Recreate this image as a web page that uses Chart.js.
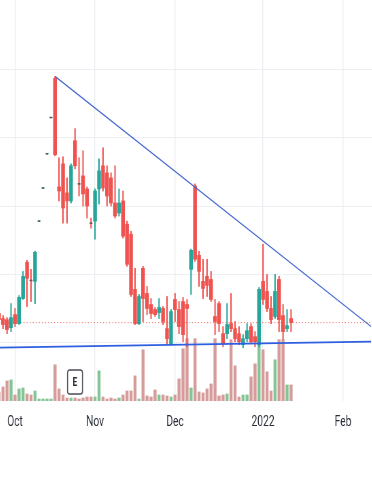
<!DOCTYPE html>
<html lang="en">
<head>
<meta charset="UTF-8">
<title>Daily candles</title>
<script src="https://cdn.jsdelivr.net/npm/chart.js"></script>
<style>
  html, body { margin: 0; padding: 0; background: #fff; overflow: hidden; }
  body { width: 372px; height: 484px; position: relative; }
  /* chart is drawn wide and squeezed, like the screenshot */
  #wrap { position: absolute; left: -3px; top: 0; width: 553px; height: 484px; transform: scaleX(0.68); transform-origin: 0 0; }
</style>
</head>
<body>
<div id="wrap"><canvas id="grafico"></canvas></div>

<script>
// daily OHLC, first visible bar to last traded bar
const opens = [7.12, 6.75, 6.67, 6.08, 7.04, 6.38, 8.22, 10.88, 9.55, 9.48,
  13.90, 16.33, 18.84, 21.50, 24.37, 16.41, 18.10, 15.97, 15.38, 19.80,
  16.63, 17.22, 16.26, 13.75, 13.90, 16.26, 17.96, 17.44, 17.07, 15.23,
  14.49, 15.38, 13.68, 12.94, 8.89, 6.38, 10.44, 8.59, 7.78, 7.41,
  7.19, 7.49, 6.01, 4.90, 8.15, 7.41, 8.00, 7.78, 10.36, 16.48,
  11.39, 9.48, 9.85, 9.62, 6.90, 7.85, 5.64, 5.64, 6.38, 6.01,
  5.64, 4.83, 5.27, 6.16, 5.42, 4.83, 9.48, 8.74, 7.49, 6.90,
  9.62, 6.97, 6.01, 6.75];
const highs = [7.41, 6.97, 6.82, 7.85, 7.49, 8.44, 10.21, 11.03, 10.36, 11.69,
  13.90, 16.33, 18.84, 21.50, 24.52, 18.55, 18.62, 17.07, 18.10, 20.69,
  18.55, 19.06, 16.41, 14.12, 16.26, 18.47, 19.28, 17.96, 17.44, 17.96,
  16.26, 16.11, 13.90, 13.16, 10.44, 8.52, 10.58, 9.11, 8.22, 7.56,
  8.22, 7.63, 8.37, 7.41, 8.59, 8.00, 8.30, 8.15, 11.84, 16.63,
  11.69, 11.10, 11.10, 10.21, 8.15, 8.00, 6.16, 7.85, 8.59, 6.53,
  6.16, 5.57, 6.38, 6.38, 5.79, 9.03, 12.20, 9.99, 8.37, 9.99,
  9.85, 7.78, 7.41, 7.41];
const lows = [6.45, 6.01, 5.64, 5.79, 6.16, 6.31, 8.15, 7.63, 8.00, 7.85,
  13.90, 16.33, 18.84, 21.50, 18.69, 15.38, 13.75, 13.75, 15.23, 17.74,
  15.74, 15.01, 14.12, 13.38, 12.57, 15.15, 16.11, 15.01, 15.01, 14.12,
  14.27, 12.65, 10.58, 8.37, 6.31, 6.31, 6.53, 7.04, 6.75, 6.90,
  6.75, 6.31, 4.90, 4.83, 6.53, 5.64, 5.05, 4.68, 8.52, 10.95,
  9.11, 8.22, 8.37, 8.00, 5.57, 5.79, 4.68, 5.27, 5.79, 5.05,
  4.83, 4.61, 5.05, 4.90, 4.68, 4.68, 7.78, 7.26, 6.38, 6.75,
  5.79, 5.20, 5.79, 5.79];
const closes = [6.67, 6.31, 5.94, 6.82, 6.38, 8.30, 9.85, 9.70, 9.55, 11.61,
  13.90, 16.33, 18.84, 21.50, 18.77, 16.11, 14.86, 15.38, 17.96, 17.96,
  16.63, 15.89, 15.01, 13.75, 16.11, 17.59, 16.33, 15.74, 15.23, 14.27,
  15.23, 12.79, 10.73, 8.52, 6.38, 8.37, 8.22, 7.49, 7.12, 7.04,
  7.56, 6.53, 5.27, 7.26, 7.41, 6.16, 5.57, 7.49, 11.76, 11.10,
  10.21, 8.96, 9.18, 8.15, 6.53, 6.38, 4.90, 6.31, 6.01, 5.27,
  5.05, 5.27, 5.86, 5.05, 5.05, 8.89, 8.15, 7.49, 6.67, 8.74,
  6.67, 5.79, 6.23, 6.45];
// volume, millions
const volumes = [4.5, 7, 10, 10.5, 3, 6, 6.5, 3.5, 3, 5,
  1, 1, 1, 1, 18, 6, 3, 1.5, 1.5, 1.5,
  1, 1.5, 2, 2, 2, 15, 2, 1, 1.5, 1,
  1.5, 3, 5, 5, 12.5, 1, 25.5, 2.5, 2, 5.5,
  3, 3, 2.5, 2, 3, 11, 26, 31, 6.5, 31,
  4.5, 4, 6, 8.5, 31, 2.5, 3, 3.5, 30.5, 17.5,
  2, 3, 3, 12, 18.5, 28.5, 25.5, 14.5, 5, 20.5,
  30.5, 30.5, 8, 8];

const totalDays = 94; // visible bars incl. empty future ones
const monthTicks = { 4: 'Oct', 24: 'Nov', 44: 'Dec', 66: '2022', 86: 'Feb' };
const gridPrices = [5, 10, 15, 20, 25];
const earningsDay = 19;

// drawn trend lines: [bar index, price]
const upperTrend = [[14, 24.52], [93, 6.17]];
const lowerTrend = [[0, 4.61], [93, 5.05]];

const upColor = '#26a69a';
const downColor = '#ef5350';
const upVol = '#84c595';
const downVol = '#d69c9b';

const labels = [];
for (let i = 0; i < totalDays; i++) labels.push('d' + i);

const isUp = closes.map((c, i) => c > opens[i] || (c === opens[i] && i > 0 && c > closes[i - 1]));
const candleColors = isUp.map(u => u ? upColor : downColor);
const volColors = isUp.map(u => u ? upVol : downVol);

function lineFrom(points) {
  const arr = new Array(totalDays).fill(null);
  points.forEach(p => { arr[p[0]] = p[1]; });
  return arr;
}

const lastClose = closes[closes.length - 1];

const data = {
  labels: labels,
  datasets: [
    {
      type: 'line',
      data: lineFrom(upperTrend),
      spanGaps: true,
      borderColor: '#3f63cf',
      borderWidth: 1.3,
      pointRadius: 0,
      order: 0
    },
    {
      type: 'line',
      data: lineFrom(lowerTrend),
      spanGaps: true,
      borderColor: '#2f5fe0',
      borderWidth: 1.8,
      pointRadius: 0,
      order: 0
    },
    {
      type: 'line',
      data: opens.map((o, i) => o === closes[i] ? o : null),
      showLine: false,
      pointStyle: 'line',
      pointRadius: 1.7,
      pointBorderWidth: 1.6,
      pointBorderColor: '#55585f',
      order: 1
    },
    {
      data: opens.map((o, i) => [o, closes[i]]),
      backgroundColor: candleColors,
      barThickness: 4.8,
      grouped: false,
      order: 2
    },
    {
      data: highs.map((h, i) => [lows[i], h]),
      backgroundColor: candleColors,
      barThickness: 1.4,
      grouped: false,
      order: 3
    },
    {
      type: 'line',
      data: new Array(totalDays).fill(lastClose),
      borderColor: 'rgba(239,83,80,0.85)',
      borderWidth: 1,
      borderDash: [1.5, 3],
      pointRadius: 0,
      order: 4
    },
    {
      data: volumes,
      yAxisID: 'yv',
      backgroundColor: volColors,
      barThickness: 3.8,
      grouped: false,
      order: 6
    }
  ]
};

const earningsMark = {
  id: 'earningsMark',
  afterDatasetsDraw(chart) {
    const ctx = chart.ctx;
    const x = chart.scales.x.getPixelForValue(earningsDay);
    const w = 22, top = 370, h = 24;
    ctx.save();
    ctx.fillStyle = '#fff';
    ctx.strokeStyle = '#4a4d57';
    ctx.lineWidth = 1.6;
    ctx.beginPath();
    ctx.roundRect(x - w / 2, top, w, h, 3);
    ctx.fill();
    ctx.stroke();
    ctx.fillStyle = '#2a2e39';
    ctx.font = 'bold 12px Roboto';
    ctx.textAlign = 'center';
    ctx.textBaseline = 'middle';
    ctx.fillText('E', x, top + h / 2 + 1);
    ctx.restore();
  }
};

new Chart(document.getElementById('grafico'), {
  type: 'bar',
  data: data,
  plugins: [earningsMark],
  options: {
    animation: false,
    responsive: true,
    maintainAspectRatio: false,
    layout: { autoPadding: false, padding: { top: 0, left: 0, right: 0, bottom: 41 } },
    plugins: { legend: { display: false }, tooltip: { enabled: false } },
    scales: {
      x: {
        offset: true,
        grid: { offset: false, color: '#eceff3', lineWidth: 1.47, drawTicks: false },
        border: { display: false },
        afterFit: axis => { axis.paddingLeft = 0; axis.paddingRight = 0; },
        ticks: {
          autoSkip: false,
          maxRotation: 0,
          padding: 12,
          color: '#2a2e39',
          font: ctx => ({ family: 'Roboto', size: 15, weight: monthTicks[ctx.index] === '2022' ? 'bold' : 'normal' }),
          callback: (v, i) => monthTicks[i] === undefined ? null : monthTicks[i]
        }
      },
      y: {
        min: 0.70,
        max: 30.125,
        grid: { color: '#eceff3', drawTicks: false },
        border: { display: false },
        ticks: { display: false },
        afterFit: axis => { axis.width = 0; },
        afterBuildTicks: axis => { axis.ticks = gridPrices.map(v => ({ value: v })); }
      },
      yv: {
        display: false,
        min: 0,
        max: 199.5
      }
    }
  }
});
</script>
</body>
</html>
